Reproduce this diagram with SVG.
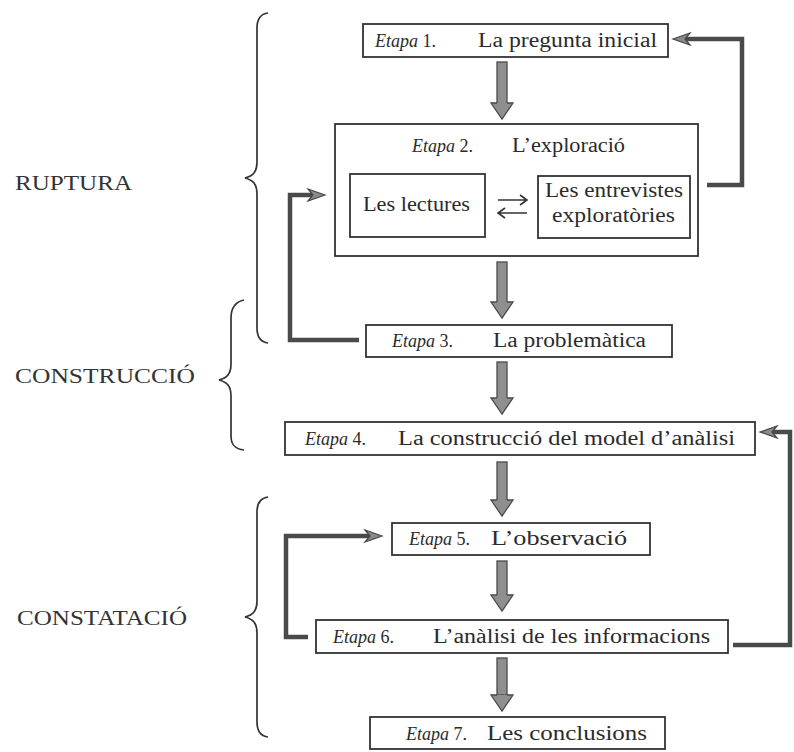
<svg xmlns="http://www.w3.org/2000/svg" width="794" height="752" viewBox="0 0 794 752">
  <style>
    .box { fill: #fff; stroke: #333; stroke-width: 1.8; }
    .txt { font-family: "Liberation Serif", "DejaVu Serif", serif; font-size: 20px; fill: #2b2b2b; }
    .num { font-family: "Liberation Serif", "DejaVu Serif", serif; font-size: 18px; fill: #2b2b2b; }
    .it { font-style: italic; }
    .lbl { font-family: "Liberation Serif", "DejaVu Serif", serif; font-size: 20px; fill: #333; }
    .brace { fill: none; stroke: #333; stroke-width: 1.7; }
    .loop { fill: none; stroke: #4a4a4a; stroke-width: 4.5; }
    .loophead { fill: #8a8a8a; stroke: #444; stroke-width: 1.2; }
    .down { fill: #8f8f8f; stroke: #4a4a4a; stroke-width: 1.3; }
  </style>
  <defs>
    <!-- head of the thick downward arrow, tip at origin -->
    <path id="downHead" class="down" d="M -5 -16 L -11 -16 L 0 0 L 11 -16 L 5 -16"/>
    <!-- loop arrowheads, tip at origin -->
    <path id="headR" class="loophead" d="M 0 0 L -17 -6 L -12 0 L -17 6 Z"/>
    <path id="headL" class="loophead" d="M 0 0 L 17 -6 L 12 0 L 17 6 Z"/>
  </defs>

  <!-- phase labels and braces -->
  <g id="phase-ruptura">
    <text class="lbl" x="15" y="190" textLength="117" lengthAdjust="spacingAndGlyphs">RUPTURA</text>
    <path class="brace" d="M 268 13 C 260 14 257 19 257 28 L 257 162 C 257 172 253 176 245 178 C 253 180 257 184 257 194 L 257 328 C 257 337 260 342 268 343"/>
  </g>
  <g id="phase-construccio">
    <text class="lbl" x="15" y="383" textLength="180" lengthAdjust="spacingAndGlyphs">CONSTRUCCIÓ</text>
    <path class="brace" d="M 244 300 C 235 302 231 308 231 318 L 231 364 C 231 374 227 378 219 380 C 227 382 231 386 231 396 L 231 436 C 231 445 235 449 244 450"/>
  </g>
  <g id="phase-constatacio">
    <text class="lbl" x="17" y="625" textLength="170" lengthAdjust="spacingAndGlyphs">CONSTATACIÓ</text>
    <path class="brace" d="M 268 497 C 260 498 257 503 257 512 L 257 601 C 257 611 253 615 245 617 C 253 619 257 623 257 633 L 257 722 C 257 731 260 736 268 737"/>
  </g>

  <!-- connectors -->
  <g id="connectors">
    <!-- stage-to-stage arrows -->
    <g id="arrow-1-2"><rect class="down" x="497" y="62" width="10" height="42"/><use href="#downHead" x="502" y="119"/></g>
    <g id="arrow-2-3"><rect class="down" x="497" y="262" width="10" height="41"/><use href="#downHead" x="502" y="318"/></g>
    <g id="arrow-3-4"><rect class="down" x="497" y="362" width="10" height="37"/><use href="#downHead" x="502" y="414"/></g>
    <g id="arrow-4-5"><rect class="down" x="497" y="462" width="10" height="39"/><use href="#downHead" x="502" y="516"/></g>
    <g id="arrow-5-6"><rect class="down" x="497" y="561" width="10" height="35"/><use href="#downHead" x="502" y="611"/></g>
    <g id="arrow-6-7"><rect class="down" x="497" y="658" width="10" height="37"/><use href="#downHead" x="502" y="711"/></g>

    <!-- stage 2 back to stage 1 -->
    <path class="loop" d="M 707 185 L 742 185 L 742 39 L 686 39"/>
    <use href="#headL" x="673" y="39"/>
    <!-- stage 3 back to stage 2 -->
    <path class="loop" d="M 359 340 L 290 340 L 290 195 L 312 195"/>
    <use href="#headR" x="325" y="195"/>
    <!-- stage 6 back to stage 4 -->
    <path class="loop" d="M 733 645 L 790 645 L 790 432 L 773 432"/>
    <use href="#headL" x="760" y="432"/>
    <!-- stage 6 back to stage 5 -->
    <path class="loop" d="M 308 637 L 286 637 L 286 536 L 369 536"/>
    <use href="#headR" x="382" y="536"/>
  </g>

  <!-- stages -->
  <g id="stage1">
    <rect class="box" x="363" y="24" width="305" height="33"/>
    <text class="num" x="375" y="47"><tspan class="it">Etapa</tspan> 1.</text>
    <text class="txt" x="478" y="47" textLength="179" lengthAdjust="spacingAndGlyphs">La pregunta inicial</text>
  </g>
  <g id="stage2">
    <rect class="box" x="335" y="124" width="363" height="132"/>
    <text class="num" x="412" y="152"><tspan class="it">Etapa</tspan> 2.</text>
    <text class="txt" x="512" y="152" textLength="113" lengthAdjust="spacingAndGlyphs">L’exploració</text>
    <g id="readings">
      <rect class="box" x="350" y="174" width="135" height="63"/>
      <text class="txt" x="363" y="211" textLength="107" lengthAdjust="spacingAndGlyphs">Les lectures</text>
    </g>
    <g id="interviews">
      <rect class="box" x="538" y="176" width="152" height="62"/>
      <text class="txt" x="545" y="197" textLength="138" lengthAdjust="spacingAndGlyphs">Les entrevistes</text>
      <text class="txt" x="552" y="222" textLength="123" lengthAdjust="spacingAndGlyphs">exploratòries</text>
    </g>
    <g id="exchange" fill="none" stroke="#333" stroke-width="1.6">
      <path d="M 498 200 L 527 200 M 520 195 L 527 200 L 520 205"/>
      <path d="M 527 213 L 498 213 M 505 208 L 498 213 L 505 218"/>
    </g>
  </g>
  <g id="stage3">
    <rect class="box" x="366" y="325" width="306" height="32"/>
    <text class="num" x="392" y="347"><tspan class="it">Etapa</tspan> 3.</text>
    <text class="txt" x="493" y="347" textLength="153" lengthAdjust="spacingAndGlyphs">La problemàtica</text>
  </g>
  <g id="stage4">
    <rect class="box" x="285" y="422" width="470" height="33"/>
    <text class="num" x="305" y="445"><tspan class="it">Etapa</tspan> 4.</text>
    <text class="txt" x="398" y="445" textLength="337" lengthAdjust="spacingAndGlyphs">La construcció del model d’anàlisi</text>
  </g>
  <g id="stage5">
    <rect class="box" x="392" y="523" width="258" height="32"/>
    <text class="num" x="409" y="545"><tspan class="it">Etapa</tspan> 5.</text>
    <text class="txt" x="491" y="545" textLength="136" lengthAdjust="spacingAndGlyphs">L’observació</text>
  </g>
  <g id="stage6">
    <rect class="box" x="316" y="620" width="412" height="33"/>
    <text class="num" x="333" y="643"><tspan class="it">Etapa</tspan> 6.</text>
    <text class="txt" x="433" y="643" textLength="277" lengthAdjust="spacingAndGlyphs">L’anàlisi de les informacions</text>
  </g>
  <g id="stage7">
    <rect class="box" x="370" y="717" width="295" height="32"/>
    <text class="num" x="406" y="740"><tspan class="it">Etapa</tspan> 7.</text>
    <text class="txt" x="487" y="740" textLength="160" lengthAdjust="spacingAndGlyphs">Les conclusions</text>
  </g>
</svg>
